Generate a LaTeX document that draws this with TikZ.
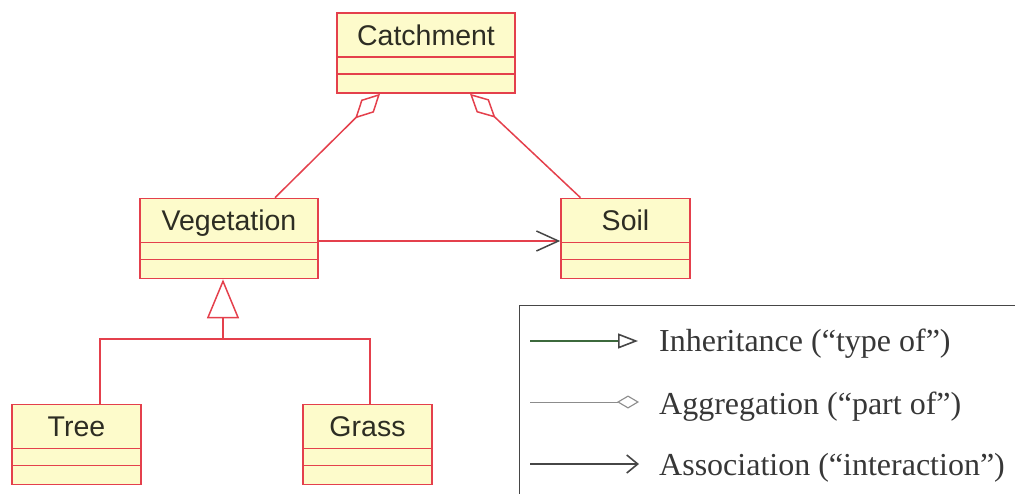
\documentclass[tikz,border=0pt]{standalone}
\usepackage{fontspec}
\setmainfont{Liberation Serif}
\newfontfamily\clsfont{Liberation Sans}
\usetikzlibrary{arrows.meta}

\definecolor{umlred}{RGB}{228,64,76}
\definecolor{umlfill}{RGB}{253,251,203}
\definecolor{umltext}{RGB}{45,45,35}
\definecolor{legline}{RGB}{70,70,70}
\definecolor{leggreen}{RGB}{60,105,60}
\definecolor{leggray}{RGB}{140,140,140}
\definecolor{legtext}{RGB}{55,55,55}

\tikzset{
  cls/.style={draw=umlred, fill=umlfill, line width=1.6pt, inner sep=0pt,
    path picture={
      \draw[umlred, line width=1.6pt]
        ([yshift=-44pt]path picture bounding box.north west) --
        ([yshift=-44pt]path picture bounding box.north east)
        ([yshift=-61pt]path picture bounding box.north west) --
        ([yshift=-61pt]path picture bounding box.north east);}},
  widecls/.style={cls, minimum width=178pt, minimum height=80pt},
  narrowcls/.style={cls, minimum width=129pt, minimum height=80pt},
  clsname/.style={anchor=base, yshift=-33pt, inner sep=0pt, text=umltext,
    font=\clsfont\fontsize{28.5}{32}\selectfont},
  rel/.style={draw=umlred, line width=1.5pt},
  partof/.style={rel, -{Diamond[open, length=35pt, width=18pt]}},
  legtxt/.style={anchor=base west, inner sep=0pt, text=legtext,
    font=\fontsize{32}{36}\selectfont},
}

\begin{document}
\begin{tikzpicture}[x=1pt, y=-1pt]
  \useasboundingbox (0,0) rectangle (1015,493);
  \clip (0,0) rectangle (1015,493);

  % classes
  \node[widecls,   label={[clsname]north:Catchment}]  (catch) at (426,53)    {};
  \node[widecls,   label={[clsname]north:Vegetation}] (veg)   at (229,238.5) {};
  \node[narrowcls, label={[clsname]north:Soil}]       (soil)  at (625.5,238.5) {};
  \node[narrowcls, label={[clsname]north:Tree}]       (tree)  at (76.5,444.5) {};
  \node[narrowcls, label={[clsname]north:Grass}]      (grass) at (367.5,444.5) {};

  % aggregation: vegetation and soil are parts of the catchment
  \draw[partof] ([xshift=46pt]veg.north)   -- ([xshift=-46pt]catch.south);
  \draw[partof] ([xshift=-45pt]soil.north) -- ([xshift=44pt]catch.south);

  % association: vegetation interacts with soil
  \draw[rel, -{Straight Barb[length=22pt, width=20pt, color=legline, line width=1.5pt]}]
    ([yshift=-2.5pt]veg.east) -- ([yshift=-2.5pt]soil.west);

  % inheritance: tree and grass are types of vegetation
  \coordinate (join) at (223,339);
  \draw[rel] ([xshift=23.5pt]tree.north) |- (join) -| ([xshift=2.5pt]grass.north);
  \draw[rel, -{Triangle[open, length=39pt, width=32pt]}]
    (join) -- ([xshift=-6pt]veg.south);

  % legend
  \node[draw=legline, line width=1pt, inner sep=0pt, anchor=north west,
        minimum width=540pt, minimum height=230pt] (legend) at (519,305) {};
  \node[legtxt] (l1) at (659,351) {Inheritance (“type of”)};
  \node[legtxt] (l2) at (659,414) {Aggregation (“part of”)};
  \node[legtxt] (l3) at (659,475) {Association (“interaction”)};
  \coordinate (a1) at (530,341); \coordinate (b1) at (638,341);
  \coordinate (a2) at (530,402); \coordinate (b2) at (639,402);
  \coordinate (a3) at (530,464); \coordinate (b3) at (639,464);
  \draw[draw=leggreen, line width=1.1pt,
        -{Triangle[open, length=20pt, width=15pt, color=legline, line width=1.6pt]}] (a1) -- (b1);
  \draw[draw=leggray, line width=1pt,
        -{Diamond[open, length=22pt, width=13pt, color=leggray, line width=1.1pt]}] (a2) -- (b2);
  \draw[draw=legline, line width=1.5pt,
        -{Straight Barb[length=11pt, width=18pt, line width=1.6pt]}] (a3) -- (b3);
\end{tikzpicture}
\end{document}
